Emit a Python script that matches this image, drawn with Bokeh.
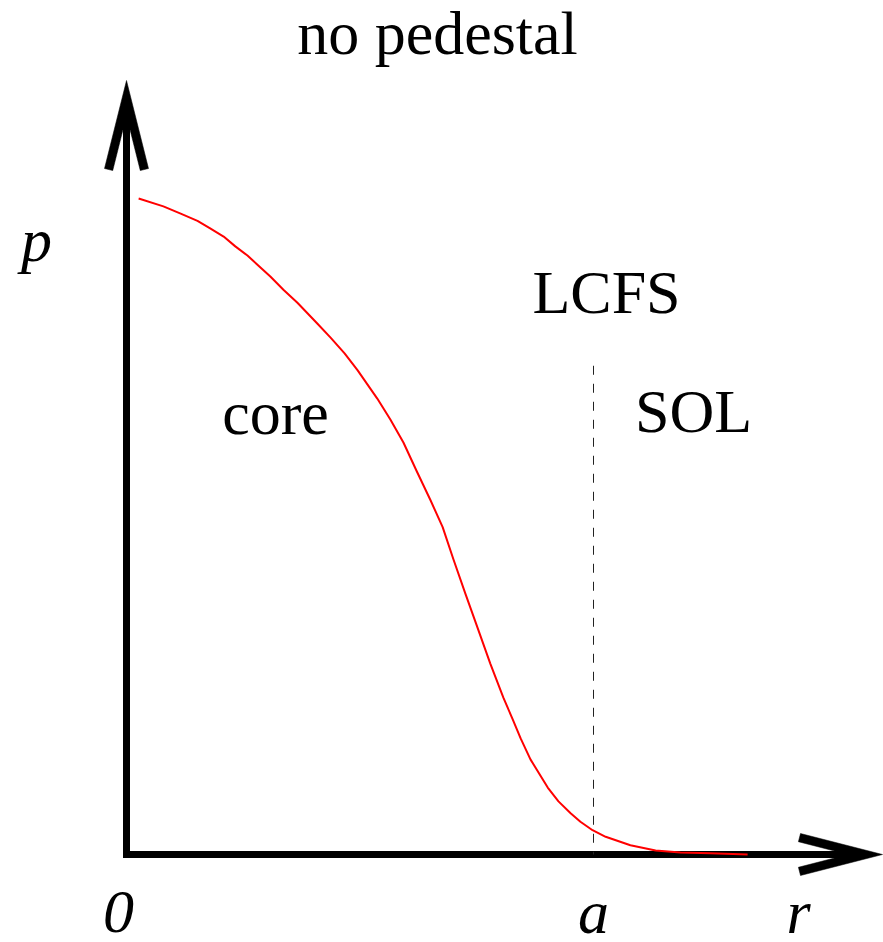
import math

from bokeh.plotting import figure
from bokeh.models import Range1d
from bokeh.core.properties import value
from bokeh.embed import file_html
from bokeh.resources import INLINE

# Normalised pressure profile p(r) without a pedestal (r in units of a)
r_vals = [0.026, 0.079, 0.116, 0.152, 0.180, 0.208, 0.233, 0.259, 0.308,
          0.336, 0.366, 0.409, 0.437, 0.467, 0.495, 0.537, 0.565, 0.593,
          0.621, 0.651, 0.677, 0.700, 0.726, 0.752, 0.779, 0.807, 0.827,
          0.844, 0.865, 0.902, 0.925, 0.951, 0.972, 0.998, 1.026, 1.079,
          1.133, 1.186, 1.251, 1.330]
p_vals = [1.000, 0.988, 0.977, 0.966, 0.954, 0.942, 0.927, 0.913, 0.881,
          0.861, 0.841, 0.809, 0.788, 0.764, 0.738, 0.695, 0.663, 0.628,
          0.585, 0.540, 0.499, 0.450, 0.397, 0.345, 0.291, 0.239, 0.206,
          0.177, 0.145, 0.102, 0.081, 0.063, 0.050, 0.037, 0.027, 0.014,
          0.006, 0.003, 0.002, 0.000]

a_lcfs = 1.0          # radius of the last closed flux surface
lcfs_line_top = 0.745 # height reached by the dashed LCFS marker

title_text = "no pedestal"
region_labels = ["core", "LCFS", "SOL"]
axis_labels = {"y": "p", "x": "r", "origin": "0", "a": "a"}

# Canvas geometry: pixel position of the origin and pixels per unit
W, H = 883, 942
X0, Y0 = 126.0, 854.0
SX, SY = 467.0, 656.0
TEXT_SHIFT = 24.0  # the svg text baseline sits this far below its anchor


def xr(px):
    return (px - X0) / SX


def yp(py):
    return (Y0 - py) / SY


def ytext(baseline_px):
    return yp(baseline_px - TEXT_SHIFT)


fig = figure(width=W, height=H,
             x_range=Range1d(xr(0), xr(W)), y_range=Range1d(yp(H), yp(0)),
             output_backend="svg", toolbar_location=None, min_border=0,
             x_axis_location=None, y_axis_location=None,
             outline_line_color=None, background_fill_color="white",
             border_fill_color="white")
fig.grid.visible = False

AXIS_W = 7.0
V_TIP = (X0, 80.0)   # top of the p axis
H_TIP = (882.0, Y0)  # end of the r axis


def chevron(tip, back, side, length, half_w, t):
    """Open arrow head outline (two thick barbs) in pixel space."""
    tx, ty = tip
    bx, by = back
    sx, sy = side
    ln = math.hypot(length, half_w)
    ends = {}
    for sgn in (1, -1):
        ex = tx + length * bx + sgn * half_w * sx
        ey = ty + length * by + sgn * half_w * sy
        nx = (half_w * bx - sgn * length * sx) / ln
        ny = (half_w * by - sgn * length * sy) / ln
        ends[sgn] = ((ex, ey), (ex + t * nx, ey + t * ny))
    notch_d = t * ln / half_w
    notch = (tx + notch_d * bx, ty + notch_d * by)
    pts = [tip, ends[1][0], ends[1][1], notch, ends[-1][1], ends[-1][0]]
    return [xr(q[0]) for q in pts], [yp(q[1]) for q in pts]


# Axis shafts (one polyline through the origin)
fig.line(x=[xr(V_TIP[0]), 0.0, xr(H_TIP[0] - 16)],
         y=[yp(V_TIP[1] + 16), 0.0, 0.0],
         line_color="black", line_width=AXIS_W, line_join="miter",
         line_cap="butt")

vx, vy = chevron(V_TIP, (0, 1), (1, 0), 88, 22, 8.5)
hx, hy = chevron(H_TIP, (-1, 0), (0, 1), 82, 21, 8.5)
fig.patches(xs=[vx, hx], ys=[vy, hy], fill_color="black", line_color="black",
            line_width=0.5)

# LCFS marker
fig.line(x=[a_lcfs, a_lcfs], y=[lcfs_line_top, 0.0], line_color="#222222",
         line_width=1, line_dash="9 9")

# Pressure profile
fig.line(x=r_vals, y=p_vals, line_color="#ff0000", line_width=2,
         line_join="round")

FONT = value("Liberation Serif")
SIZE = "62px"

# Upright labels
fig.text(x=[xr(437), xr(275), xr(606), xr(693)],
         y=[ytext(56), ytext(436), ytext(315), ytext(434)],
         text=[title_text] + region_labels,
         text_font=FONT, text_font_size=SIZE, text_align="center",
         text_baseline="alphabetic", text_color="black")

# Italic axis symbols
fig.text(x=[xr(36), xr(798), xr(118), a_lcfs],
         y=[ytext(263), ytext(935), ytext(935), ytext(935)],
         text=[axis_labels["y"], axis_labels["x"], axis_labels["origin"],
               axis_labels["a"]],
         text_font=FONT, text_font_size=SIZE, text_font_style="italic",
         text_align="center", text_baseline="alphabetic", text_color="black")

open("out.html", "w").write(file_html(fig, INLINE))
